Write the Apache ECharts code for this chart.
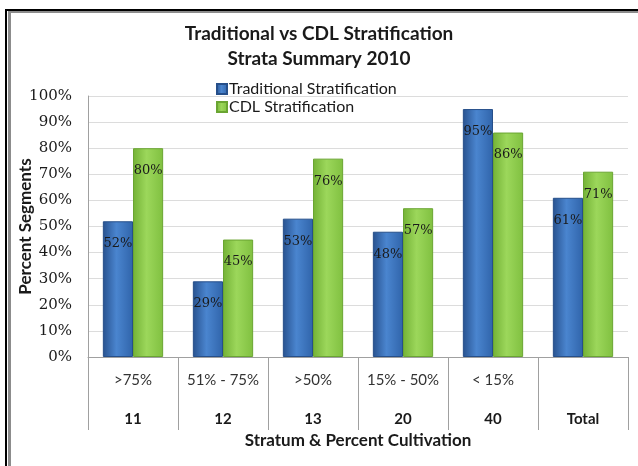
<!DOCTYPE html>
<html>
	<head>
		<meta charset="UTF-8">
		<title>Strata Summary 2010</title>
		<script type="text/javascript" src="https://cdn.jsdelivr.net/npm/echarts@6/dist/echarts.min.js"></script>
		<style>
			body { margin: 0; background: #fff; }
			#chart { width: 638px; height: 466px; }
		</style>
	</head>
	<body>
		<div id="chart"></div>
		<script>
		// data
		var strata = ['11', '12', '13', '20', '40', 'Total'];
		var cultivation = ['>75%', '51% - 75%', '>50%', '15% - 50%', '< 15%', ' '];
		var traditional = [52, 29, 53, 48, 95, 61];
		var cdl = [80, 45, 76, 57, 86, 71];
		var seriesNames = ['Traditional Stratification', 'CDL Stratification'];

		var sans = 'Lato';
		var serif = 'DejaVu Serif';

		function barColor(dark, light, edge) {
			return new echarts.graphic.LinearGradient(0, 0, 1, 0, [
				{offset: 0, color: dark},
				{offset: 0.45, color: light},
				{offset: 1, color: edge}
			]);
		}

		var valueLabel = {
			show: true,
			position: 'insideTop',
			distance: 16,
			formatter: '{c}%',
			fontFamily: serif,
			fontSize: 13,
			color: '#1a1a1a'
		};

		var chart = echarts.init(document.getElementById('chart'));
		chart.setOption({
			animation: false,
			title: {
				text: 'Traditional vs CDL Stratification\nStrata Summary 2010',
				left: 'center',
				top: 16,
				textStyle: {
					fontFamily: sans,
					fontSize: 19,
					fontWeight: 'bold',
					color: '#1a1a1a',
					lineHeight: 25
				}
			},
			legend: {
				orient: 'vertical',
				left: 211,
				top: 76,
				itemWidth: 10,
				itemHeight: 10,
				itemGap: 2,
				icon: 'rect',
				data: seriesNames,
				textStyle: {fontFamily: sans, fontSize: 16, color: '#1a1a1a', padding: [0, 0, 0, -3]}
			},
			grid: {left: 88, right: 10, top: 96, bottom: 109, outerBoundsMode: 'none'},
			xAxis: {
				type: 'category',
				data: strata,
				name: 'Stratum & Percent Cultivation',
				nameLocation: 'middle',
				nameGap: 75,
				nameMoveOverlap: false,
				nameTextStyle: {fontFamily: sans, fontSize: 17, fontWeight: 'bold', color: '#1a1a1a'},
				axisLine: {lineStyle: {color: '#a0a0a0'}},
				axisTick: {show: true, interval: 0, length: 73, lineStyle: {color: '#a0a0a0'}},
				axisLabel: {
					margin: 3,
					interval: 0,
					formatter: function(value) {
						var i = strata.indexOf(value);
						return '{a|' + cultivation[i] + '}\n{b|' + value + '}';
					},
					rich: {
						a: {fontFamily: sans, fontSize: 15, color: '#333', lineHeight: 40},
						b: {fontFamily: sans, fontSize: 15, fontWeight: 'bold', color: '#1a1a1a', lineHeight: 38}
					}
				}
			},
			yAxis: {
				type: 'value',
				min: 0,
				max: 100,
				interval: 10,
				name: 'Percent Segments',
				nameLocation: 'middle',
				nameRotate: 90,
				nameGap: 54,
				nameMoveOverlap: false,
				nameTextStyle: {fontFamily: sans, fontSize: 17, fontWeight: 'bold', color: '#1a1a1a'},
				axisLine: {show: true, lineStyle: {color: '#a0a0a0'}},
				axisTick: {show: false},
				axisLabel: {formatter: '{value}%', margin: 16, fontFamily: serif, fontSize: 15, color: '#1a1a1a'},
				splitLine: {lineStyle: {color: '#dcdcdc'}}
			},
			series: [
				{
					name: seriesNames[0],
					type: 'bar',
					data: traditional,
					barGap: 0,
					barCategoryGap: '33%',
					itemStyle: {
						color: barColor('#28528f', '#4a85cf', '#3064aa'),
						borderColor: '#264f8a',
						borderWidth: 1
					},
					label: valueLabel
				},
				{
					name: seriesNames[1],
					type: 'bar',
					data: cdl,
					barGap: 0,
					barCategoryGap: '33%',
					itemStyle: {
						color: barColor('#74b236', '#9cd75b', '#80c040'),
						borderColor: '#6aa532',
						borderWidth: 1
					},
					label: valueLabel
				}
			],
			graphic: [
				// frame around the chart
				{type: 'rect', shape: {x: 5, y: 9, width: 633, height: 2}, style: {fill: '#000'}, silent: true},
				{type: 'rect', shape: {x: 5, y: 9, width: 2, height: 457}, style: {fill: '#000'}, silent: true},
				{type: 'rect', shape: {x: 8, y: 11, width: 630, height: 2}, style: {fill: '#8c8c8c'}, silent: true},
				{type: 'rect', shape: {x: 8, y: 11, width: 3, height: 455}, style: {fill: '#8c8c8c'}, silent: true}
			]
		});
		</script>
	</body>
</html>
